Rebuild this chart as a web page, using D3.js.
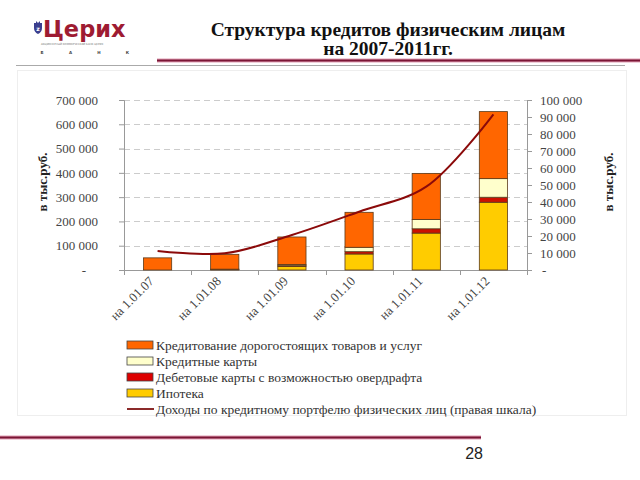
<!DOCTYPE html>
<html>
<head>
<meta charset="utf-8">
<script src="https://cdn.jsdelivr.net/npm/d3@7"></script>
<style>
  body { margin: 0; background: #fff; }
  svg { display: block; }
</style>
</head>
<body>
<svg id="chart" width="640" height="480"></svg>
<script>
// Даты (категории)
const categories = ["на 1.01.07", "на 1.01.08", "на 1.01.09", "на 1.01.10", "на 1.01.11", "на 1.01.12"]

// Ряды, тыс. руб.
const mortgage = [0, 1500, 15000, 66000, 152000, 279000]
const debitCards = [0, 1500, 3000, 9500, 17700, 20600]
const creditCards = [0, 500, 5000, 18000, 38700, 76600]
const consumerLoans = [50000, 61000, 113000, 144000, 189400, 276000]
const income = [11200, 9800, 20600, 34300, 49000, 91600]

const leftTicks = [0, 100000, 200000, 300000, 400000, 500000, 600000, 700000]
const rightTicks = [0, 10000, 20000, 30000, 40000, 50000, 60000, 70000, 80000, 90000, 100000]

const seriesNames = [
    "Кредитование дорогостоящих товаров и услуг",
    "Кредитные карты",
    "Дебетовые карты с возможностью овердрафта",
    "Ипотека",
    "Доходы по кредитному портфелю физических лиц (правая шкала)"
]

const serif = "Liberation Serif"
const svg = d3.select("#chart")

// --- Шапка слайда ---
// Логотип
svg.append("path")
   .attr("d", "M34,23 L36,23 L36,21 L38,23 L40,21 L40,23 L42,23 L42,28 Q42,32 38,34 Q34,32 34,28 Z")
   .attr("fill", "#3b3f8f")
svg.append("text").attr("x", 38).attr("y", 31).attr("text-anchor", "middle")
   .attr("font-family", "DejaVu Sans").attr("font-size", 6).attr("font-weight", "bold")
   .attr("fill", "#fff").text("z")
svg.append("text").attr("x", 43).attr("y", 37)
   .attr("font-family", "'DejaVu Sans', sans-serif").attr("font-weight", "bold")
   .attr("font-size", 22.5).attr("fill", "#9e1b32").text("Церих")
svg.append("text").attr("x", 41).attr("y", 45)
   .attr("font-family", "'DejaVu Sans', sans-serif").attr("font-size", 2.6)
   .attr("fill", "#777").text("АКЦИОНЕРНЫЙ КОММЕРЧЕСКИЙ БАНК ЦЕРИХ")
;["Б", "А", "Н", "К"].forEach((c, i) => {
    svg.append("text").attr("x", 42 + i * 28.5).attr("y", 54)
       .attr("font-family", "'DejaVu Sans', sans-serif").attr("font-size", 4).attr("font-weight", "bold")
       .attr("fill", "#444").attr("text-anchor", "middle").text(c)
})

// Заголовок
svg.append("text").attr("x", 388).attr("y", 36).attr("text-anchor", "middle")
   .attr("font-family", serif).attr("font-weight", "bold").attr("font-size", 19.5)
   .attr("fill", "#111").text("Структура кредитов физическим лицам")
svg.append("text").attr("x", 388).attr("y", 55).attr("text-anchor", "middle")
   .attr("font-family", serif).attr("font-weight", "bold").attr("font-size", 19.5)
   .attr("fill", "#111").text("на 2007-2011гг.")

// Линии шапки
svg.append("line").attr("x1", 157).attr("x2", 640).attr("y1", 60.5).attr("y2", 60.5)
   .attr("stroke", "#e2a0b5").attr("stroke-width", 4)
svg.append("line").attr("x1", 157).attr("x2", 640).attr("y1", 60.5).attr("y2", 60.5)
   .attr("stroke", "#7a1535").attr("stroke-width", 2)
svg.append("line").attr("x1", 16).attr("x2", 625).attr("y1", 65.5).attr("y2", 65.5)
   .attr("stroke", "#aaa").attr("stroke-width", 1)

// Рамка области диаграммы
svg.append("rect").attr("x", 17.5).attr("y", 70.5).attr("width", 609).attr("height", 345)
   .attr("fill", "none").attr("stroke", "#eee")

// --- Диаграмма ---
const plotTop = 100, plotBottom = 270, plotLeft = 124, plotRight = 527

const x = d3.scaleBand().domain(categories).range([plotLeft, plotRight])
            .paddingInner(0.58).paddingOuter(0.29)
const yLeft = d3.scaleLinear().domain([0, 700000]).range([plotBottom, plotTop])
const yRight = d3.scaleLinear().domain([0, 100000]).range([plotBottom, plotTop])

const fmt = v => v === 0 ? "-" : d3.format(",")(v).replace(/,/g, " ")

// Сетка
svg.append("g").selectAll("line").data(leftTicks.slice(1)).join("line")
   .attr("x1", plotLeft).attr("x2", plotRight)
   .attr("y1", d => Math.round(yLeft(d)) + 0.5).attr("y2", d => Math.round(yLeft(d)) + 0.5)
   .attr("stroke", "#ccc").attr("stroke-dasharray", "6,4")

// Левая ось
const axisL = svg.append("g").attr("transform", `translate(${plotLeft},0)`)
   .call(d3.axisLeft(yLeft).tickValues(leftTicks).tickFormat(fmt).tickSize(5).tickPadding(21))
// Правая ось
const axisR = svg.append("g").attr("transform", `translate(${plotRight},0)`)
   .call(d3.axisRight(yRight).tickValues(rightTicks).tickFormat(fmt).tickSize(5).tickPadding(8))
;[axisL, axisR].forEach(a => {
    a.attr("font-family", serif)
    a.selectAll("path,line").attr("stroke", "#999")
    a.selectAll("text").attr("font-family", serif).attr("font-size", 13).attr("fill", "#444")
})
axisL.selectAll("text").filter(d => d === 0).attr("dx", -12)
axisR.selectAll("text").filter(d => d === 0).attr("dx", 2)

// Ось X
svg.append("line").attr("x1", plotLeft).attr("x2", plotRight + 5)
   .attr("y1", plotBottom + 0.5).attr("y2", plotBottom + 0.5).attr("stroke", "#999")
svg.append("g").selectAll("line").data(d3.range(categories.length + 1)).join("line")
   .attr("x1", i => Math.round(plotLeft + i * x.step()) + 0.5)
   .attr("x2", i => Math.round(plotLeft + i * x.step()) + 0.5)
   .attr("y1", plotBottom).attr("y2", plotBottom + 5).attr("stroke", "#999")
svg.append("g").selectAll("text").data(categories).join("text")
   .attr("transform", d => `translate(${x(d) + x.bandwidth() / 2 - 3},${plotBottom + 12}) rotate(-45)`)
   .attr("text-anchor", "end").attr("font-family", serif).attr("font-size", 13).attr("fill", "#444")
   .text(d => d)

// Подписи осей
svg.append("text").attr("transform", "translate(47,182) rotate(-90)").attr("text-anchor", "middle")
   .attr("font-family", serif).attr("font-weight", "bold").attr("font-size", 13).attr("fill", "#222")
   .text("в тыс.руб.")
svg.append("text").attr("transform", "translate(613,182) rotate(-90)").attr("text-anchor", "middle")
   .attr("font-family", serif).attr("font-weight", "bold").attr("font-size", 13).attr("fill", "#222")
   .text("в тыс.руб.")

// Стек столбцов (снизу вверх)
const stackSeries = [
    {values: mortgage, color: "#ffcc00"},
    {values: debitCards, color: "#cc1100"},
    {values: creditCards, color: "#ffffcc"},
    {values: consumerLoans, color: "#ff6600"}
]
const table = categories.map((c, i) => {
    const row = {cat: c}
    stackSeries.forEach((s, k) => row["s" + k] = s.values[i])
    return row
})
const stacked = d3.stack().keys(stackSeries.map((s, k) => "s" + k))(table)

svg.append("g").selectAll("g").data(stacked).join("g")
   .attr("fill", (d, k) => stackSeries[k].color)
   .selectAll("rect").data(d => d).join("rect")
   .attr("x", d => x(d.data.cat))
   .attr("width", x.bandwidth())
   .attr("y", d => yLeft(d[1]))
   .attr("height", d => Math.max(0, yLeft(d[0]) - yLeft(d[1])))
   .attr("stroke", "#5a3a1a").attr("stroke-width", 0.8)

// Линия доходов
const line = d3.line()
   .x((d, i) => x(categories[i]) + x.bandwidth() / 2)
   .y(d => yRight(d))
   .curve(d3.curveCatmullRom.alpha(0.5))
svg.append("path").datum(income).attr("d", line)
   .attr("fill", "none").attr("stroke", "#8b0a0a").attr("stroke-width", 2)

// Легенда
const legendColors = ["#ff6600", "#ffffcc", "#dd0000", "#ffcc00"]
const legend = svg.append("g").attr("transform", "translate(127,345)")
seriesNames.forEach((name, i) => {
    const g = legend.append("g").attr("transform", `translate(0,${i * 16})`)
    if (i < 4) {
        g.append("rect").attr("x", 0).attr("y", -4).attr("width", 26).attr("height", 8)
         .attr("fill", legendColors[i]).attr("stroke", "#444").attr("stroke-width", 0.8)
    } else {
        g.append("line").attr("x1", 0).attr("x2", 27).attr("y1", 0).attr("y2", 0)
         .attr("stroke", "#8b2a2a").attr("stroke-width", 2)
    }
    g.append("text").attr("x", 29).attr("y", 4.5)
     .attr("font-family", serif).attr("font-size", 13.5).attr("fill", "#333").text(name)
})

// Нижняя линия и номер слайда
svg.append("line").attr("x1", 0).attr("x2", 481).attr("y1", 437.5).attr("y2", 437.5)
   .attr("stroke", "#e2a0b5").attr("stroke-width", 4)
svg.append("line").attr("x1", 0).attr("x2", 481).attr("y1", 437.5).attr("y2", 437.5)
   .attr("stroke", "#7a1535").attr("stroke-width", 2)
svg.append("text").attr("x", 483).attr("y", 459).attr("text-anchor", "end")
   .attr("font-family", "'Liberation Sans', Arial, sans-serif").attr("font-size", 16)
   .attr("fill", "#222").text("28")
</script>
</body>
</html>
